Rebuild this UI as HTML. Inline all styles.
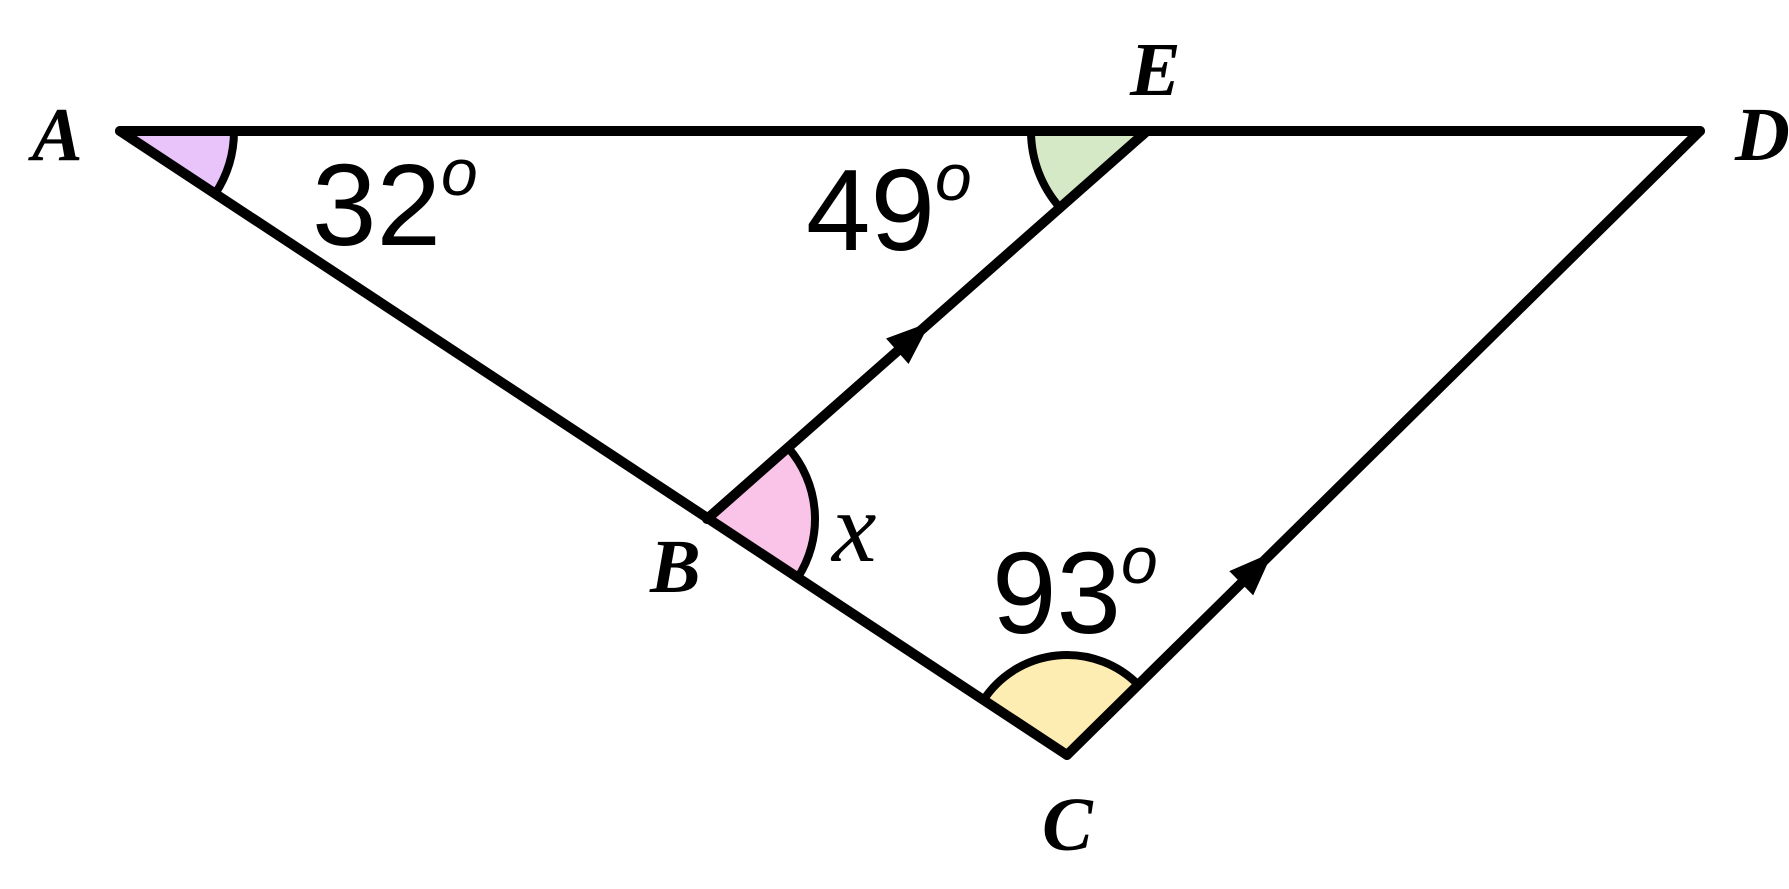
<!DOCTYPE html>
<html><head><meta charset="utf-8"><style>
html,body{margin:0;padding:0;background:#fff;}
svg{display:block;}
.lbl{font-family:"Liberation Serif",serif;font-weight:bold;font-style:italic;font-size:76px;}
.ang{font-family:"Liberation Sans",sans-serif;font-size:116px;}
.deg{font-family:"Liberation Sans",sans-serif;font-style:italic;font-size:66px;}
</style></head><body>
<svg id="fig" width="1789" height="889" viewBox="0 0 1789 889" xmlns="http://www.w3.org/2000/svg">
<g id="arcs"></g>
<g id="lines"></g>
<g id="arrows"></g>
<text class="lbl" x="32" y="160">A</text>
<text class="lbl" x="1130" y="95">E</text>
<text class="lbl" x="1735" y="160">D</text>
<text class="lbl" x="650" y="592">B</text>
<text class="lbl" x="1042" y="850">C</text>
<text class="ang" x="312" y="245">32<tspan class="deg" dy="-50">o</tspan></text>
<text class="ang" x="806" y="250">49<tspan class="deg" dy="-50">o</tspan></text>
<text class="ang" x="992" y="633">93<tspan class="deg" dy="-50">o</tspan></text>
<text x="832" y="561" style="font-family:'Liberation Serif',serif;font-style:italic;font-size:100px">x</text>
</svg>
<script>
const NS="http://www.w3.org/2000/svg";
const P={A:[120,131],E:[1147,131],D:[1700,131],B:[707,519],C:[1067,755]};
function ang(p,q){return Math.atan2(q[1]-p[1],q[0]-p[0]);}
function arc(v,a,b,r,fill,name){
  const c=P[v],a1=ang(c,P[a]),a2=ang(c,P[b]);
  const x1=c[0]+r*Math.cos(a1),y1=c[1]+r*Math.sin(a1),x2=c[0]+r*Math.cos(a2),y2=c[1]+r*Math.sin(a2);
  let d=a2-a1;while(d<0)d+=2*Math.PI;const sweep=1;const large=d>Math.PI?1:0;
  const f=document.createElementNS(NS,'path');
  f.setAttribute('d',`M${c[0]},${c[1]} L${x1},${y1} A${r},${r} 0 ${large} ${sweep} ${x2},${y2} Z`);
  f.setAttribute('fill',fill);
  
  
  document.getElementById('arcs').appendChild(f);
  const s=document.createElementNS(NS,'path');
  s.setAttribute('d',`M${x1},${y1} A${r},${r} 0 ${large} ${sweep} ${x2},${y2}`);
  s.setAttribute('fill','none');s.setAttribute('stroke','#000');s.setAttribute('stroke-width','8');
  
  
  document.getElementById('arcs').appendChild(s);
}
arc('A','D','B',114,'#e8c4fb','angle-a');
arc('E','B','A',116,'#d6e9c6','angle-e');
arc('B','E','C',108,'#fac3e8','angle-x');
arc('C','B','D',100,'#fdedb3','angle-c');
function line(a,b,name){
  const l=document.createElementNS(NS,'line');
  l.setAttribute('x1',P[a][0]);l.setAttribute('y1',P[a][1]);l.setAttribute('x2',P[b][0]);l.setAttribute('y2',P[b][1]);
  l.setAttribute('stroke','#000');l.setAttribute('stroke-width','10');l.setAttribute('stroke-linecap','round');
  
  
  document.getElementById('lines').appendChild(l);
}
line('A','D','line-ad');line('A','C','line-ac');line('B','E','line-be');line('C','D','line-cd');
function arrow(a,b,t,name){
  const p=P[a],q=P[b],th=ang(p,q);
  const cx=p[0]+(q[0]-p[0])*t,cy=p[1]+(q[1]-p[1])*t;
  const L=44,W=17,c=Math.cos(th),s=Math.sin(th);
  const tip=[cx+L/2*c,cy+L/2*s],bx=cx-L/2*c,by=cy-L/2*s;
  const pts=`${tip[0]},${tip[1]} ${bx-W*s},${by+W*c} ${bx+W*s},${by-W*c}`;
  const g=document.createElementNS(NS,'polygon');
  g.setAttribute('points',pts);g.setAttribute('fill','#000');
  
  
  document.getElementById('arrows').appendChild(g);
}
arrow('B','E',0.47,'parallel-arrow-be');
arrow('C','D',0.3,'parallel-arrow-cd');
</script>
</body></html>
